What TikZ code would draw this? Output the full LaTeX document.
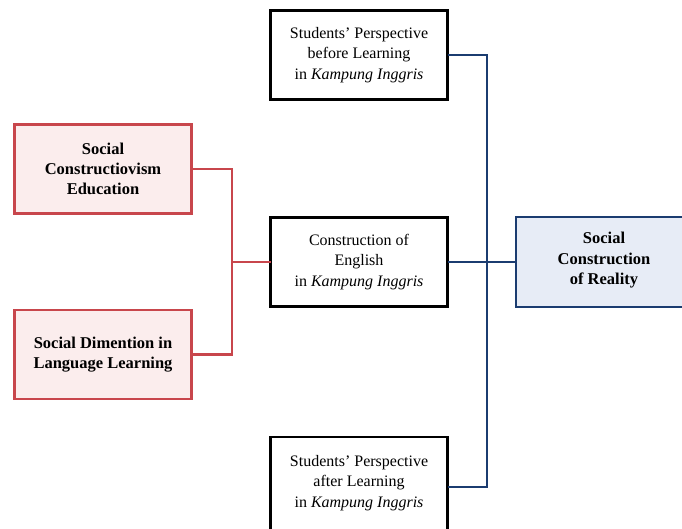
\documentclass[tikz,border=0pt]{standalone}
\usepackage{fontspec}
\setmainfont{Liberation Serif}
\begin{document}
\begin{tikzpicture}[x=1pt,y=-1pt,
  every node/.style={inner sep=0pt, outer sep=0pt},
  blackbox/.style={draw=black, line width=2.6pt, fill=white, minimum width=177pt, minimum height=89pt, align=center, font=\fontsize{16}{20.5}\selectfont},
  redbox/.style={draw=redline, line width=2.2pt, fill=redfill, minimum width=177pt, minimum height=89pt, align=center, font=\fontsize{16.5}{20}\selectfont\bfseries},
  bluebox/.style={draw=blueline, line width=2pt, fill=bluefill, minimum width=177pt, minimum height=90pt},
  plaintext/.style={align=center, font=\fontsize{16}{20.5}\selectfont},
  redlink/.style={draw=redline, line width=2.2pt},
  bluelink/.style={draw=blueline, line width=2.2pt}]
\definecolor{redline}{HTML}{C8464C}
\definecolor{redfill}{HTML}{FBEDED}
\definecolor{blueline}{HTML}{1B3C70}
\definecolor{bluefill}{HTML}{E7ECF6}
\useasboundingbox (0,0) rectangle (682,528);

% context boxes on the left
\node[redbox] (sce) at (103,169) {Social\\Constructiovism\\Education};
\node[redbox] (sdl) at (103,354.5) {Social Dimention in\\Language Learning};

% central column
\node[blackbox] (before) at (359,55) {Students' Perspective\\before Learning\\in \textit{Kampung Inggris}};
\node[blackbox] (constr) at (359,262) {Construction of\\English\\in \textit{Kampung Inggris}};
\node[blackbox, minimum height=100pt] (after) at (359,487) {};
\node[plaintext] (aftertext) at (359,483) {Students' Perspective\\after Learning\\in \textit{Kampung Inggris}};

% theory box on the right
\node[bluebox, anchor=west] (scr) at (516,262) {};
\node[font=\fontsize{16.5}{20.5}\selectfont\bfseries, align=center] (scrtext) at (604,260.5) {Social\\Construction\\of Reality};

% red connectors
\coordinate (rj) at (232,262);
\draw[redlink] (sce.east) -| (rj);
\draw[redlink] (sdl.east) -| (rj);
\draw[redlink] (rj) -- (constr.west);

% blue connectors
\coordinate (bj) at (487,262);
\draw[bluelink] (before.east) -| (bj);
\draw[bluelink] (after.east) -| (bj);
\draw[bluelink] (constr.east) -- (scr.west);
\end{tikzpicture}
\end{document}
